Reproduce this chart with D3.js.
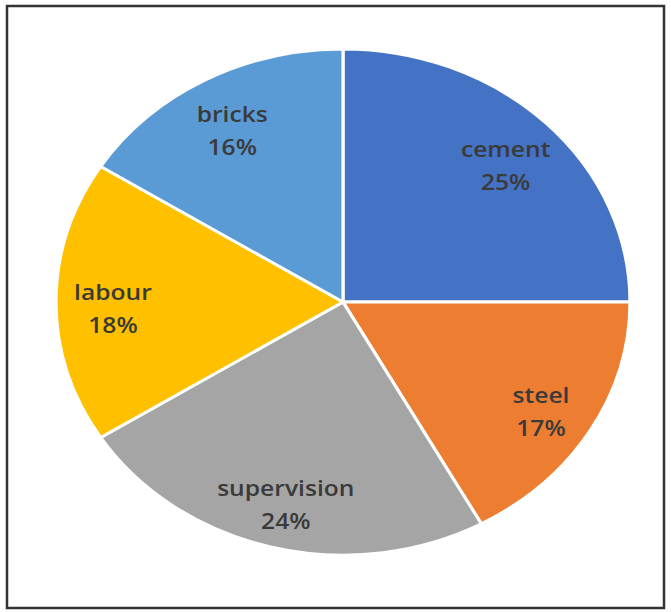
<!DOCTYPE html>
<meta charset="utf-8">
<html>
  <style>
    body { margin: 0; background: #fff; }
    .lbl { font-family: "Open Sans", sans-serif; font-size: 22px; font-weight: 600; fill: #3a3a3a; }
  </style>
  <head>
    <script src="https://d3js.org/d3.v7.min.js"></script>
  </head>
  <body>
    <script>
      // chart data
      var categories = ["cement", "steel", "supervision", "labour", "bricks"];
      var shares = [25, 17, 24, 18, 16];
      var colours = ["#4472C4", "#ED7D31", "#A5A5A5", "#FFC000", "#5B9BD5"];

      var width = 671, height = 612;
      var cx = 343, cy = 302, rx = 287, ry = 253;
      var squash = ry / rx;

      var svg = d3.select("body").append("svg")
          .attr("width", width)
          .attr("height", height);

      // outer frame
      svg.append("rect")
         .attr("x", 7).attr("y", 6)
         .attr("width", 657).attr("height", 602)
         .attr("fill", "#fff")
         .attr("stroke", "#333")
         .attr("stroke-width", 2.5);

      var data = categories.map(function(c, i) { return {name: c, value: shares[i]}; });

      var pie = d3.pie().sort(null).value(function(d) { return d.value; });
      var arcs = pie(data);

      var arc = d3.arc().innerRadius(0).outerRadius(rx);
      var labelArc = d3.arc().innerRadius(230).outerRadius(230);

      // pie is stretched sideways in the picture, so squash it vertically
      var g = svg.append("g")
          .attr("transform", "translate(" + cx + "," + cy + ") scale(1," + squash + ")");

      g.selectAll("path")
       .data(arcs)
       .enter().append("path")
       .attr("d", arc)
       .attr("fill", function(d, i) { return colours[i]; })
       .attr("stroke", "#fff")
       .attr("stroke-width", 3.2);

      var lg = svg.append("g").attr("transform", "translate(" + cx + "," + cy + ")");

      arcs.forEach(function(d) {
        var c = labelArc.centroid(d);
        var x = c[0], y = c[1] * squash + 6;
        var t = lg.append("g").attr("transform", "translate(" + x + "," + y + ") scale(1.12,1)");
        t.append("text").attr("class", "lbl")
         .attr("text-anchor", "middle")
         .attr("y", -8)
         .text(d.data.name);
        t.append("text").attr("class", "lbl")
         .attr("text-anchor", "middle")
         .attr("y", 25)
         .text(d.data.value + "%");
      });
    </script>
  </body>
</html>
